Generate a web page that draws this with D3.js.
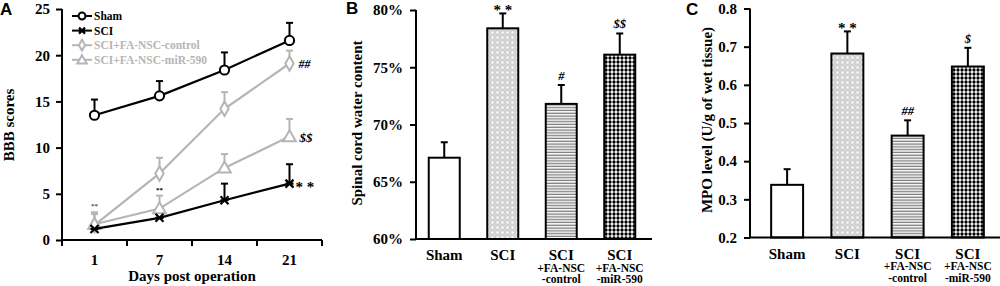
<!doctype html>
<html>
<head>
<script src="https://d3js.org/d3.v7.min.js"></script>
<style>
  body { margin: 0; background: #fff; }
  text { font-family: "Liberation Serif", "Times New Roman", serif; font-weight: bold; }
</style>
</head>
<body>
<script>
// panel A data
var days = ["1", "7", "14", "21"];
var seriesNames = ["Sham", "SCI", "SCI+FA-NSC-control", "SCI+FA-NSC-miR-590"];
var bbbSham = [13.5, 15.6, 18.4, 21.6];
var bbbShamErr = [1.7, 1.6, 1.9, 1.9];
var bbbSCI = [1.2, 2.4, 4.3, 6.1];
var bbbSCIErr = [0, 0, 1.8, 2.1];
var bbbCtrl = [1.6, 7.2, 14.2, 19.1];
var bbbCtrlErr = [1.2, 1.7, 1.8, 1.4];
var bbbMir = [1.7, 3.4, 7.8, 11.2];
var bbbMirErr = [1.3, 1.4, 1.5, 1.9];
var bbbTicks = [0, 5, 10, 15, 20, 25];

// panels B and C data
var barGroups = ["Sham", "SCI", "SCI|+FA-NSC|-control", "SCI|+FA-NSC|-miR-590"];
var waterContent = [67.1, 78.4, 71.8, 76.1];
var waterErr = [1.35, 1.3, 1.65, 1.85];
var waterTicks = [60, 65, 70, 75, 80];
var waterMarks = ["", "* *", "#", "$$"];
var mpoLevel = [0.338, 0.682, 0.467, 0.648];
var mpoErr = [0.041, 0.058, 0.04, 0.049];
var mpoTicks = [0.2, 0.3, 0.4, 0.5, 0.6, 0.7, 0.8];
var mpoMarks = ["", "* *", "##", "$"];

var gray = "#b5b5b5";

var svg = d3.select("body").append("svg")
    .attr("width", 1000)
    .attr("height", 286);

// fill patterns
var defs = svg.append("defs");
var pGrid = defs.append("pattern").attr("id", "grid")
    .attr("patternUnits", "userSpaceOnUse").attr("width", 5).attr("height", 5);
pGrid.append("rect").attr("width", 5).attr("height", 5).attr("fill", "#fff");
pGrid.append("rect").attr("x", 0.75).attr("y", 0.75).attr("width", 3.5).attr("height", 3.5)
    .attr("fill", "none").attr("stroke", "#c8c8c8").attr("stroke-width", 1.2);

var pStripe = defs.append("pattern").attr("id", "stripe")
    .attr("patternUnits", "userSpaceOnUse").attr("width", 4).attr("height", 2.8);
pStripe.append("rect").attr("width", 4).attr("height", 2.8).attr("fill", "#fff");
pStripe.append("rect").attr("y", 0.6).attr("width", 4).attr("height", 1.3).attr("fill", "#7a7a7a");

var pDots = defs.append("pattern").attr("id", "dots")
    .attr("patternUnits", "userSpaceOnUse").attr("width", 4).attr("height", 4);
pDots.append("rect").attr("width", 4).attr("height", 4).attr("fill", "#fff");
pDots.append("circle").attr("cx", 2).attr("cy", 2).attr("r", 1.65).attr("fill", "#000");

var fills = ["#fff", "url(#grid)", "url(#stripe)", "url(#dots)"];

// panel letters
[["A", 0, 15], ["B", 346, 14], ["C", 686, 15]].forEach(function (l) {
    svg.append("text").attr("x", l[1]).attr("y", l[2])
        .style("font-family", "Liberation Sans, Arial, sans-serif")
        .style("font-size", "17px").text(l[0]);
});

// ---------- Panel A ----------
var x = d3.scaleBand().domain(days).range([62, 322]);
var y = d3.scaleLinear().domain([0, 25]).range([240, 9]);

svg.append("g").attr("transform", "translate(62,0)")
    .call(d3.axisLeft(y).tickValues(bbbTicks).tickSize(6).tickPadding(6))
    .call(function (g) {
        g.select(".domain").attr("stroke-width", 2).attr("d", "M0,9V240");
        g.selectAll(".tick line").attr("stroke-width", 2);
        g.selectAll("text").style("font-size", "15px").style("font-family", "Liberation Serif");
    });

var xAxisA = svg.append("g").attr("transform", "translate(0,240)");
xAxisA.append("line").attr("x1", 61).attr("x2", 322).attr("stroke", "#000").attr("stroke-width", 2);
xAxisA.selectAll(".tk").data(days.concat(["end"])).enter().append("line")
    .attr("x1", function (d, i) { return 62 + i * x.step(); })
    .attr("x2", function (d, i) { return 62 + i * x.step(); })
    .attr("y1", 0).attr("y2", 6).attr("stroke", "#000").attr("stroke-width", 2);
xAxisA.selectAll(".lbl").data(days).enter().append("text")
    .attr("x", function (d) { return x(d) + x.bandwidth() / 2; })
    .attr("y", 25).attr("text-anchor", "middle").style("font-size", "15px").text(function (d) { return d; });

svg.append("text").attr("x", 192).attr("y", 281).attr("text-anchor", "middle")
    .style("font-size", "15px").text("Days post operation");
svg.append("text").attr("transform", "translate(14,125) rotate(-90)")
    .attr("text-anchor", "middle").style("font-size", "15px").text("BBB scores");

var series = [
    { vals: bbbCtrl, err: bbbCtrlErr, color: gray, marker: "diamond" },
    { vals: bbbMir, err: bbbMirErr, color: gray, marker: "triangle" },
    { vals: bbbSCI, err: bbbSCIErr, color: "#000", marker: "x" },
    { vals: bbbSham, err: bbbShamErr, color: "#000", marker: "circle" }
];

function cx(i) { return x(days[i]) + x.bandwidth() / 2; }

function drawMarker(g, type, px, py, color, s) {
    if (type === "circle") {
        g.append("circle").attr("cx", px).attr("cy", py).attr("r", 4.6 * s)
            .attr("fill", "#fff").attr("stroke", color).attr("stroke-width", 2);
    } else if (type === "diamond") {
        g.append("path").attr("d", d3.symbol().type(d3.symbolDiamond).size(60 * s * s))
            .attr("transform", "translate(" + px + "," + py + ")")
            .attr("fill", "#fff").attr("stroke", color).attr("stroke-width", 2);
    } else if (type === "triangle") {
        g.append("path").attr("d", d3.symbol().type(d3.symbolTriangle).size(70 * s * s))
            .attr("transform", "translate(" + px + "," + (py + 1) + ")")
            .attr("fill", "#fff").attr("stroke", color).attr("stroke-width", 2);
    } else {
        var r = 4 * s;
        g.append("path").attr("d", "M" + (px - r) + "," + (py - r) + "L" + (px + r) + "," + (py + r) +
            "M" + (px - r) + "," + (py + r) + "L" + (px + r) + "," + (py - r) +
            "M" + (px - r) + "," + py + "L" + (px + r) + "," + py)
            .attr("stroke", color).attr("stroke-width", 2.2);
    }
}

var line = d3.line().x(function (d, i) { return cx(i); }).y(function (d) { return y(d); });

series.forEach(function (s) {
    var g = svg.append("g");
    s.vals.forEach(function (v, i) {
        if (s.err[i] > 0) {
            g.append("line").attr("x1", cx(i)).attr("x2", cx(i))
                .attr("y1", y(v)).attr("y2", y(v + s.err[i]))
                .attr("stroke", s.color).attr("stroke-width", 2);
            g.append("line").attr("x1", cx(i) - 3.5).attr("x2", cx(i) + 3.5)
                .attr("y1", y(v + s.err[i])).attr("y2", y(v + s.err[i]))
                .attr("stroke", s.color).attr("stroke-width", 2);
        }
    });
    g.append("path").datum(s.vals).attr("d", line)
        .attr("fill", "none").attr("stroke", s.color).attr("stroke-width", 2.2);
    s.vals.forEach(function (v, i) { drawMarker(g, s.marker, cx(i), y(v), s.color, 1); });
});

// significance marks on panel A
svg.append("text").attr("x", cx(3) + 9).attr("y", y(bbbCtrl[3]) + 4)
    .style("font-size", "12px").style("font-style", "italic").text("##");
svg.append("text").attr("x", cx(3) + 10).attr("y", y(bbbMir[3]) + 5)
    .style("font-size", "13px").style("font-style", "italic").text("$$");
svg.append("text").attr("x", cx(3) + 6).attr("y", y(bbbSCI[3]) + 8)
    .style("font-size", "15px").text("* *");
svg.append("text").attr("x", cx(0)).attr("y", y(bbbMir[0] + 1.8)).attr("text-anchor", "middle")
    .attr("fill", "#555").style("font-size", "7px").text("**");
svg.append("text").attr("x", cx(1)).attr("y", y(bbbMir[1] + 1.8)).attr("text-anchor", "middle")
    .style("font-size", "7px").text("**");

// legend
var legend = svg.append("g");
[series[3], series[2], series[0], series[1]].forEach(function (s, i) {
    var ly = 16 + i * 14.6;
    legend.append("line").attr("x1", 72).attr("x2", 92).attr("y1", ly).attr("y2", ly)
        .attr("stroke", s.color).attr("stroke-width", 2);
    drawMarker(legend, s.marker, 82, ly, s.color, 0.75);
    legend.append("text").attr("x", 94).attr("y", ly + 4)
        .attr("fill", s.color).style("font-size", "11.5px").text(seriesNames[i]);
});

// ---------- Bar panels ----------
function barPanel(opt) {
    var xb = d3.scaleBand().domain(barGroups).range(opt.xRange).paddingInner(0.47).paddingOuter(0.235);
    var yb = d3.scaleLinear().domain(opt.yDomain).range([opt.yBottom, opt.yTop]);
    var g = svg.append("g");

    g.append("g").attr("transform", "translate(" + opt.axisX + ",0)")
        .call(d3.axisLeft(yb).tickValues(opt.ticks).tickSize(6).tickPadding(7).tickFormat(opt.fmt))
        .call(function (a) {
            a.select(".domain").attr("stroke-width", 2)
                .attr("d", "M0," + opt.yTop + "V" + opt.yBottom);
            a.selectAll(".tick line").attr("stroke-width", 2);
            a.selectAll("text").style("font-size", "15px").style("font-family", "Liberation Serif");
        });

    g.selectAll(".bar").data(opt.values).enter().append("rect")
        .attr("x", function (d, i) { return xb(barGroups[i]); })
        .attr("y", function (d) { return yb(d); })
        .attr("width", xb.bandwidth())
        .attr("height", function (d) { return opt.yBottom - yb(d); })
        .attr("fill", function (d, i) { return fills[i]; })
        .attr("stroke", "#000").attr("stroke-width", 2);

    opt.values.forEach(function (v, i) {
        var c = xb(barGroups[i]) + xb.bandwidth() / 2;
        var top = yb(v + opt.errs[i]);
        g.append("line").attr("x1", c).attr("x2", c).attr("y1", yb(v)).attr("y2", top)
            .attr("stroke", "#000").attr("stroke-width", 2);
        g.append("line").attr("x1", c - 3.5).attr("x2", c + 3.5).attr("y1", top).attr("y2", top)
            .attr("stroke", "#000").attr("stroke-width", 2);
        if (opt.marks[i]) {
            var plain = opt.marks[i].indexOf("*") >= 0;
            g.append("text").attr("x", c).attr("y", plain ? top + 1.5 : top - 5)
                .attr("text-anchor", "middle")
                .style("font-size", plain ? "15px" : "12.5px")
                .style("font-style", plain ? "normal" : "italic")
                .text(opt.marks[i]);
        }
        var parts = barGroups[i].split("|");
        parts.forEach(function (p, k) {
            g.append("text").attr("x", c).attr("y", opt.yBottom + 21 + k * 11.5)
                .attr("text-anchor", "middle")
                .style("font-size", k === 0 ? "15px" : "11.5px").text(p);
        });
    });

    g.append("line").attr("x1", opt.axisX - 1).attr("x2", opt.axisEnd)
        .attr("y1", opt.yBottom).attr("y2", opt.yBottom)
        .attr("stroke", "#000").attr("stroke-width", 2);

    g.append("text").attr("transform", "translate(" + opt.labelX + "," + opt.labelY + ") rotate(-90)")
        .attr("text-anchor", "middle").style("font-size", "15px").text(opt.label);
}

barPanel({
    xRange: [415, 649], axisX: 416, axisEnd: 652,
    yDomain: [60, 80], yBottom: 239, yTop: 10,
    ticks: waterTicks, fmt: function (d) { return d + "%"; },
    values: waterContent, errs: waterErr, marks: waterMarks,
    label: "Spinal cord water content", labelX: 362, labelY: 123
});

barPanel({
    xRange: [757, 998], axisX: 750, axisEnd: 1000,
    yDomain: [0.2, 0.8], yBottom: 237.5, yTop: 8.5,
    ticks: mpoTicks, fmt: d3.format(".1f"),
    values: mpoLevel, errs: mpoErr, marks: mpoMarks,
    label: "MPO level (U/g of wet tissue)", labelX: 712, labelY: 120
});
</script>
</body>
</html>
